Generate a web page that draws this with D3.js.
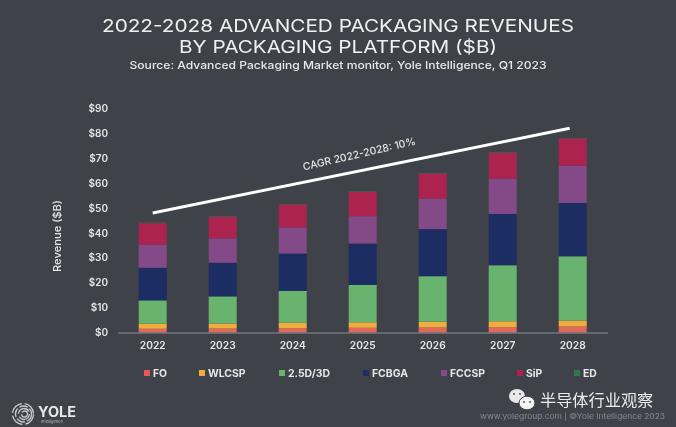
<!DOCTYPE html>
<html><head><meta charset="utf-8">
<script src="https://cdn.jsdelivr.net/npm/d3@7"></script>
<style>
html,body{margin:0;padding:0;background:#3f4248;overflow:hidden}
svg{display:block;filter:blur(0.6px)}
text{font-family:Inter,"Open Sans",sans-serif}
</style></head><body><svg id="c" width="676" height="427"></svg>
<script>
const years=["2022","2023","2024","2025","2026","2027","2028"];
const seriesNames=["FO","WLCSP","2.5D/3D","FCBGA","FCCSP","SiP","ED"];
const FO=[1.5,1.6,1.7,1.9,2.0,2.1,2.4];
const WLCSP=[2.1,2.0,2.2,2.2,2.3,2.4,2.4];
const P25D3D=[9.3,10.9,12.8,15.0,18.3,22.5,25.8];
const FCBGA=[13.1,13.5,15.0,16.6,18.9,20.6,21.4];
const FCCSP=[9.3,9.8,10.5,11.0,12.3,14.2,15.0];
const SiP=[8.6,8.7,9.2,9.8,10.0,10.3,10.9];
const ED=[0.2,0.2,0.2,0.2,0.2,0.2,0.2];
const colors=["#e2695a","#eead3f","#68b36e","#1b2d63","#834a87","#ad2350","#2f7a46"];
const yTicks=[0,10,20,30,40,50,60,70,80,90];
const cagrValues=[48,82];
const title=["2022-2028 ADVANCED PACKAGING REVENUES","BY PACKAGING PLATFORM ($B)"];
const subtitle="Source: Advanced Packaging Market monitor, Yole Intelligence, Q1 2023";
const legendX=[144,199,279,363,441,517,574];

const svg=d3.select("#c");
const x=d3.scaleBand().domain(years).range([117.7,607.7]).paddingInner(0.6).paddingOuter(0.3);
const y=d3.scaleLinear().domain([0,90]).range([332.5,108.3]);
const table=years.map((yr,i)=>({year:yr,FO:FO[i],WLCSP:WLCSP[i],"2.5D/3D":P25D3D[i],FCBGA:FCBGA[i],FCCSP:FCCSP[i],SiP:SiP[i],ED:ED[i]}));
const stacked=d3.stack().keys(seriesNames)(table);

// titles
svg.selectAll("text.t").data(title).join("text").attr("class","t")
 .attr("x",338).attr("y",(d,i)=>[31.5,52.5][i]).attr("text-anchor","middle")
 .attr("fill","#f0f0f0").attr("font-size",17.4).attr("font-weight",400)
 .attr("textLength",(d,i)=>[472,318][i]).attr("lengthAdjust","spacingAndGlyphs").text(d=>d);
svg.append("text").attr("x",338).attr("y",69).attr("text-anchor","middle").attr("fill","#e8e8e8")
 .attr("font-size",11).attr("font-weight",500).attr("textLength",417).attr("lengthAdjust","spacingAndGlyphs").text(subtitle);

// bars
svg.append("g").selectAll("g").data(stacked).join("g").attr("fill",(d,i)=>colors[i])
 .selectAll("rect").data(d=>d.map(v=>({v,year:v.data.year}))).join("rect")
 .attr("x",d=>x(d.year)).attr("width",x.bandwidth())
 .attr("y",d=>y(d.v[1])).attr("height",d=>y(d.v[0])-y(d.v[1]));

// axes
const yAxis=d3.axisLeft(y).tickValues(yTicks).tickSize(0).tickPadding(0).tickFormat(d=>"$"+d);
const gy=svg.append("g").attr("transform","translate(108,0)").call(yAxis);
gy.select(".domain").remove();
gy.selectAll("text").attr("fill","#e6e6e6").attr("font-size",10).attr("font-weight",600).style("font-family","Inter,sans-serif");
const xAxis=d3.axisBottom(x).tickSize(0).tickPadding(9);
const gx=svg.append("g").attr("transform","translate(0,332.5)").call(xAxis);
gx.select(".domain").attr("stroke","#8b8f98").attr("stroke-width",1);
gx.selectAll("text").attr("fill","#e6e6e6").attr("font-size",10.2).attr("font-weight",600).style("font-family","Inter,sans-serif");
svg.append("text").attr("transform","translate(61,236) rotate(-90)").attr("text-anchor","middle")
 .attr("fill","#e6e6e6").attr("font-size",10.5).attr("font-weight",500).attr("textLength",72).attr("lengthAdjust","spacingAndGlyphs").text("Revenue ($B)");

// CAGR
const cx=v=>x(v)+x.bandwidth()/2;
svg.append("line").attr("x1",cx("2022")).attr("y1",y(cagrValues[0])).attr("x2",cx("2028")-3).attr("y2",y(cagrValues[1]))
 .attr("stroke","#fff").attr("stroke-width",3);
svg.append("text").attr("transform","translate(360,157.5) rotate(-13)").attr("text-anchor","middle")
 .attr("fill","#e4e4e4").attr("font-size",10.4).attr("font-weight",500).text("CAGR 2022-2028: 10%");

// legend
const lg=svg.append("g").selectAll("g").data(seriesNames).join("g").attr("transform",(d,i)=>`translate(${legendX[i]},373)`);
lg.append("rect").attr("y",-3).attr("width",6).attr("height",6).attr("fill",(d,i)=>i==0?"#e25a55":colors[i]);
lg.append("text").attr("x",9).attr("y",3.6).attr("fill","#e6e6e6").attr("font-size",10.4).attr("font-weight",700).text(d=>d);

// logo
const logo=svg.append("g").attr("transform","translate(24,414)").attr("fill","none").attr("stroke","#c9cbce");
[10.5,8,5.5,3].forEach((r,i)=>logo.append("circle").attr("cx",i*0.5-1).attr("r",r).attr("stroke-width",1.3).attr("stroke-dasharray",i%2?"9 2":"14 3"));
svg.append("text").attr("x",38).attr("y",417).attr("fill","#e8e8e8").attr("font-size",14).attr("font-weight",700).attr("textLength",38).attr("lengthAdjust","spacingAndGlyphs").text("YOLE");
svg.append("text").attr("x",41).attr("y",423).attr("fill","#b5b7ba").attr("font-size",4).text("Intelligence");

// watermark
const wc=svg.append("g");
wc.append("ellipse").attr("cx",517).attr("cy",396).attr("rx",8).attr("ry",7).attr("fill","#e9e9e9");
wc.append("ellipse").attr("cx",527).attr("cy",403).attr("rx",8).attr("ry",6.8).attr("fill","#f4f4f4").attr("stroke","#3f4248").attr("stroke-width",1);
[[514,394],[520,394],[524,402],[530,402]].forEach(p=>wc.append("circle").attr("cx",p[0]).attr("cy",p[1]).attr("r",1).attr("fill","#55585c"));
svg.append("text").attr("x",540).attr("y",406).attr("fill","#ececec").attr("font-size",16.2).style("font-family",'"Noto Sans CJK SC"').text("半导体行业观察");
svg.append("text").attr("x",480).attr("y",419).attr("fill","#868990").attr("font-size",7.6).attr("textLength",185).attr("lengthAdjust","spacingAndGlyphs").text("www.yolegroup.com | ©Yole Intelligence 2023");
</script></body></html>
